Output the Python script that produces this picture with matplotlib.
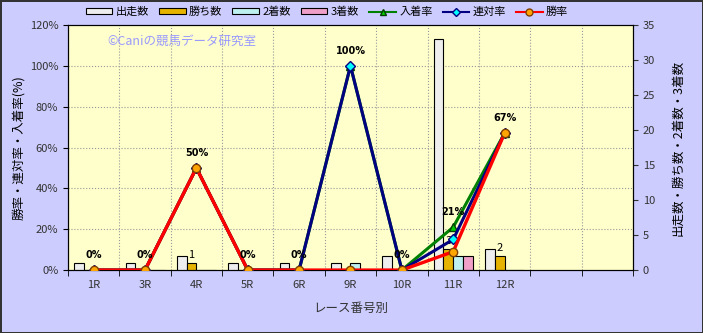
import numpy as np
import matplotlib
matplotlib.use('Agg')
import matplotlib.pyplot as plt
from matplotlib.patches import Patch
from matplotlib.lines import Line2D

plt.rcParams['font.family'] = ['Noto Sans CJK JP', 'DejaVu Sans']

races = ['1R', '3R', '4R', '5R', '6R', '9R', '10R', '11R', '12R', '', '']
starts = [1, 1, 2, 1, 1, 1, 2, 33, 3]
wins = [0, 0, 1, 0, 0, 0, 0, 3, 2]
seconds = [0, 0, 0, 0, 0, 1, 0, 2, 0]
thirds = [0, 0, 0, 0, 0, 0, 0, 2, 0]

win_rate = [0, 0, 0.50, 0, 0, 0, 0, 0.09, 0.67]
rentai_rate = [0, 0, 0.50, 0, 0, 1.00, 0, 0.15, 0.67]
place_rate = [0, 0, 0.50, 0, 0, 1.00, 0, 0.21, 0.67]

bg = '#CCCCFF'
fig = plt.figure(figsize=(7.03, 3.33), dpi=100, facecolor=bg)
fig.patch.set_edgecolor('#333333')
fig.patch.set_linewidth(2)
ax = fig.add_axes([0.0967, 0.189, 0.8037, 0.736])
ax.set_facecolor('#FFFFCC')
ax2 = ax.twinx()

x = np.arange(len(starts))
w = 0.19
bar_specs = [
    (starts, '#EEEEEE', '出走数'),
    (wins, '#E6B400', '勝ち数'),
    (seconds, '#BFF0F0', '2着数'),
    (thirds, '#F0A0C8', '3着数'),
]
handles = []
for i, (vals, col, name) in enumerate(bar_specs):
    ax.bar(x + (i - 1.5) * w, vals, width=w, color=col, edgecolor='black',
           linewidth=0.8, zorder=3)
    handles.append(Patch(facecolor=col, edgecolor='black', linewidth=0.8, label=name))

for xi, v in zip(x, wins):
    if v > 0:
        ax.annotate(str(v), (xi - 0.5 * w, v), xytext=(0, 2), textcoords='offset points',
                    ha='center', va='bottom', fontsize=8, zorder=4)

ax.set_xlim(-0.5, len(races) - 0.5)
ax.set_ylim(0, 35)
ax.set_yticks(np.arange(0, 36, 5))
ax.set_yticks(np.linspace(0, 35, 7), minor=True)
ax.set_xticks(np.arange(len(races)))
ax.set_xticklabels(races, fontsize=8, color='#333333')
ax.set_xticks(np.arange(-0.5, len(races), 1), minor=True)
ax.tick_params(axis='x', which='major', length=0, pad=7)
ax.tick_params(axis='x', which='minor', length=4)
ax.tick_params(axis='y', which='minor', length=0)
ax.grid(True, which='minor', color='#999999', linestyle=':', linewidth=0.8, zorder=0)
ax.set_axisbelow(True)
ax.yaxis.tick_right()
ax.yaxis.set_label_position('right')
ax.tick_params(axis='y', labelsize=8, colors='#333333', labelcolor='#333333')
ax.set_ylabel('出走数・勝ち数・2着数・3着数', fontsize=9, labelpad=12)
ax.set_xlabel('レース番号別', fontsize=9, labelpad=9, color='#333333')

xl = np.arange(len(place_rate))
ax2.plot(xl, place_rate, color='#008000', lw=2.2, marker='^', ms=6,
         mfc='#00CC00', mec='#004000', zorder=3)
ax2.plot(xl, rentai_rate, color='#000080', lw=2.2, marker='D', ms=5,
         mfc='#00FFFF', mec='#000080', zorder=4)
ax2.plot(xl, win_rate, color='#FF0000', lw=2.4, marker='o', ms=6,
         mfc='#FFA500', mec='#804000', zorder=5)
handles += [
    Line2D([], [], color='#008000', lw=1.5, marker='^', ms=5, mfc='#00CC00', mec='#004000', label='入着率'),
    Line2D([], [], color='#000080', lw=1.5, marker='D', ms=4, mfc='#00FFFF', mec='#000080', label='連対率'),
    Line2D([], [], color='#FF0000', lw=1.5, marker='o', ms=5, mfc='#FFA500', mec='#804000', label='勝率'),
]
for xi, v in zip(xl, place_rate):
    ax2.annotate('{:.0f}%'.format(v * 100), (xi, v), xytext=(0, 7), textcoords='offset points',
                 ha='center', va='bottom', fontsize=7, fontweight='bold',
                 family='DejaVu Sans', zorder=6)

ax2.set_ylim(0, 1.2)
ax2.set_yticks(np.arange(0, 1.21, 0.2))
ax2.set_yticklabels(['{:.0f}%'.format(t * 100) for t in np.arange(0, 1.21, 0.2)])
ax2.yaxis.tick_left()
ax2.yaxis.set_label_position('left')
ax2.tick_params(axis='y', labelsize=8, labelcolor='#333333')
ax2.set_ylabel('勝率・連対率・入着率(%)', fontsize=9, labelpad=3)

ax.text(0.07, 0.92, '©Caniの競馬データ研究室', transform=ax.transAxes, fontsize=9,
        color='#9999FF', zorder=2)

fig.legend(handles=handles, loc='upper center', bbox_to_anchor=(0.465, 1.01), ncol=7,
           frameon=False, fontsize=8, handlelength=2.4, handleheight=0.5,
           handletextpad=0.3, columnspacing=0.9)

fig.savefig('out.png', dpi=100, facecolor=bg, edgecolor='#333333')
